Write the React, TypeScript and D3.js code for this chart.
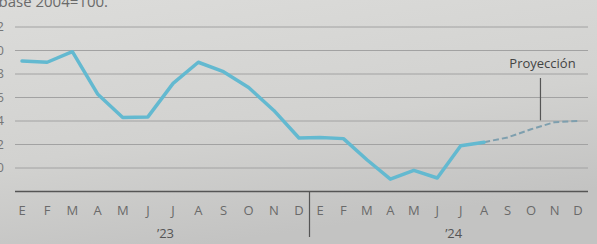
import React from 'react';
import * as d3 from 'd3';

// monthly index, base 2004=100
const months = ['E', 'F', 'M', 'A', 'M', 'J', 'J', 'A', 'S', 'O', 'N', 'D'];
const years = ['’23', '’24'];
const actual = [109.1, 109.0, 109.9, 106.3, 104.3, 104.35, 107.2, 109.0, 108.2, 106.85, 104.9, 102.55,
  102.6, 102.5, 100.7, 99.05, 99.8, 99.15, 101.9, 102.2];
const projected = [102.2, 102.6, 103.3, 103.9, 104.0];
const yTicks = [100, 102, 104, 106, 108, 110, 112];

const W = 597;
const H = 244;

const App = () => {
  const x = d3.scaleLinear().domain([0, 11, 12, 23]).range([22, 299, 320, 578]);
  const y = d3.scaleLinear().domain([98, 112]).range([191.5, 27]);

  const line = d3.line<number>()
    .x((_, i) => x(i))
    .y(d => y(d));
  const projLine = d3.line<number>()
    .x((_, i) => x(i + actual.length - 1))
    .y(d => y(d));

  const labels = years.flatMap((yr, j) => months.map((m, i) => ({ m, i: j * 12 + i })));
  const markIdx = 21.4;
  const markY = y(103.8);

  return (
    <svg width={W} height={H} style={{ position: 'absolute', left: 0, top: 0, display: 'block' }}
      fontFamily="'Open Sans', sans-serif">
      <defs>
        <linearGradient id="paper" x1="0" y1="0" x2="0.35" y2="1">
          <stop offset="0" stopColor="#dcdcda" />
          <stop offset="0.6" stopColor="#d2d2d0" />
          <stop offset="1" stopColor="#c3c3c2" />
        </linearGradient>
      </defs>
      <rect width={W} height={H} fill="url(#paper)" />

      {/* title is cut by the photo's left edge */}
      <text x={108} y={7} textAnchor="end" fontSize={15} fill="#6a6a6a">Índice base 2004=100.</text>

      {yTicks.map(t => (
        <g key={t}>
          <line x1={15} x2={588} y1={y(t)} y2={y(t)} stroke="#a2a2a2" strokeWidth={1} />
          <text x={4} y={y(t) + 4} textAnchor="end" fontSize={13} fill="#777">{t}</text>
        </g>
      ))}
      <line x1={15} x2={588} y1={y(98)} y2={y(98)} stroke="#555" strokeWidth={1.5} />

      <line x1={(x(11) + x(12)) / 2} x2={(x(11) + x(12)) / 2} y1={y(98)} y2={237}
        stroke="#555" strokeWidth={1.2} />

      <path d={projLine(projected) ?? ''} fill="none" stroke="#7e9fae" strokeWidth={2}
        strokeDasharray="6 3" />
      <path d={line(actual) ?? ''} fill="none" stroke="#63b9d0" strokeWidth={3.5}
        strokeLinejoin="round" strokeLinecap="round" />

      <line x1={x(markIdx)} x2={x(markIdx)} y1={78} y2={markY - 3} stroke="#555" strokeWidth={1.2} />
      <text x={x(markIdx) + 2} y={68} textAnchor="middle" fontSize={13} fill="#444">Proyección</text>

      {labels.map(d => (
        <text key={d.i} x={x(d.i)} y={215} textAnchor="middle" fontSize={13} fill="#6a6a6a">{d.m}</text>
      ))}
      {years.map((yr, j) => (
        <text key={yr} x={x(j * 12 + 5.7)} y={238} textAnchor="middle" fontSize={13} fill="#555">{yr}</text>
      ))}
    </svg>
  );
};

export default App;
